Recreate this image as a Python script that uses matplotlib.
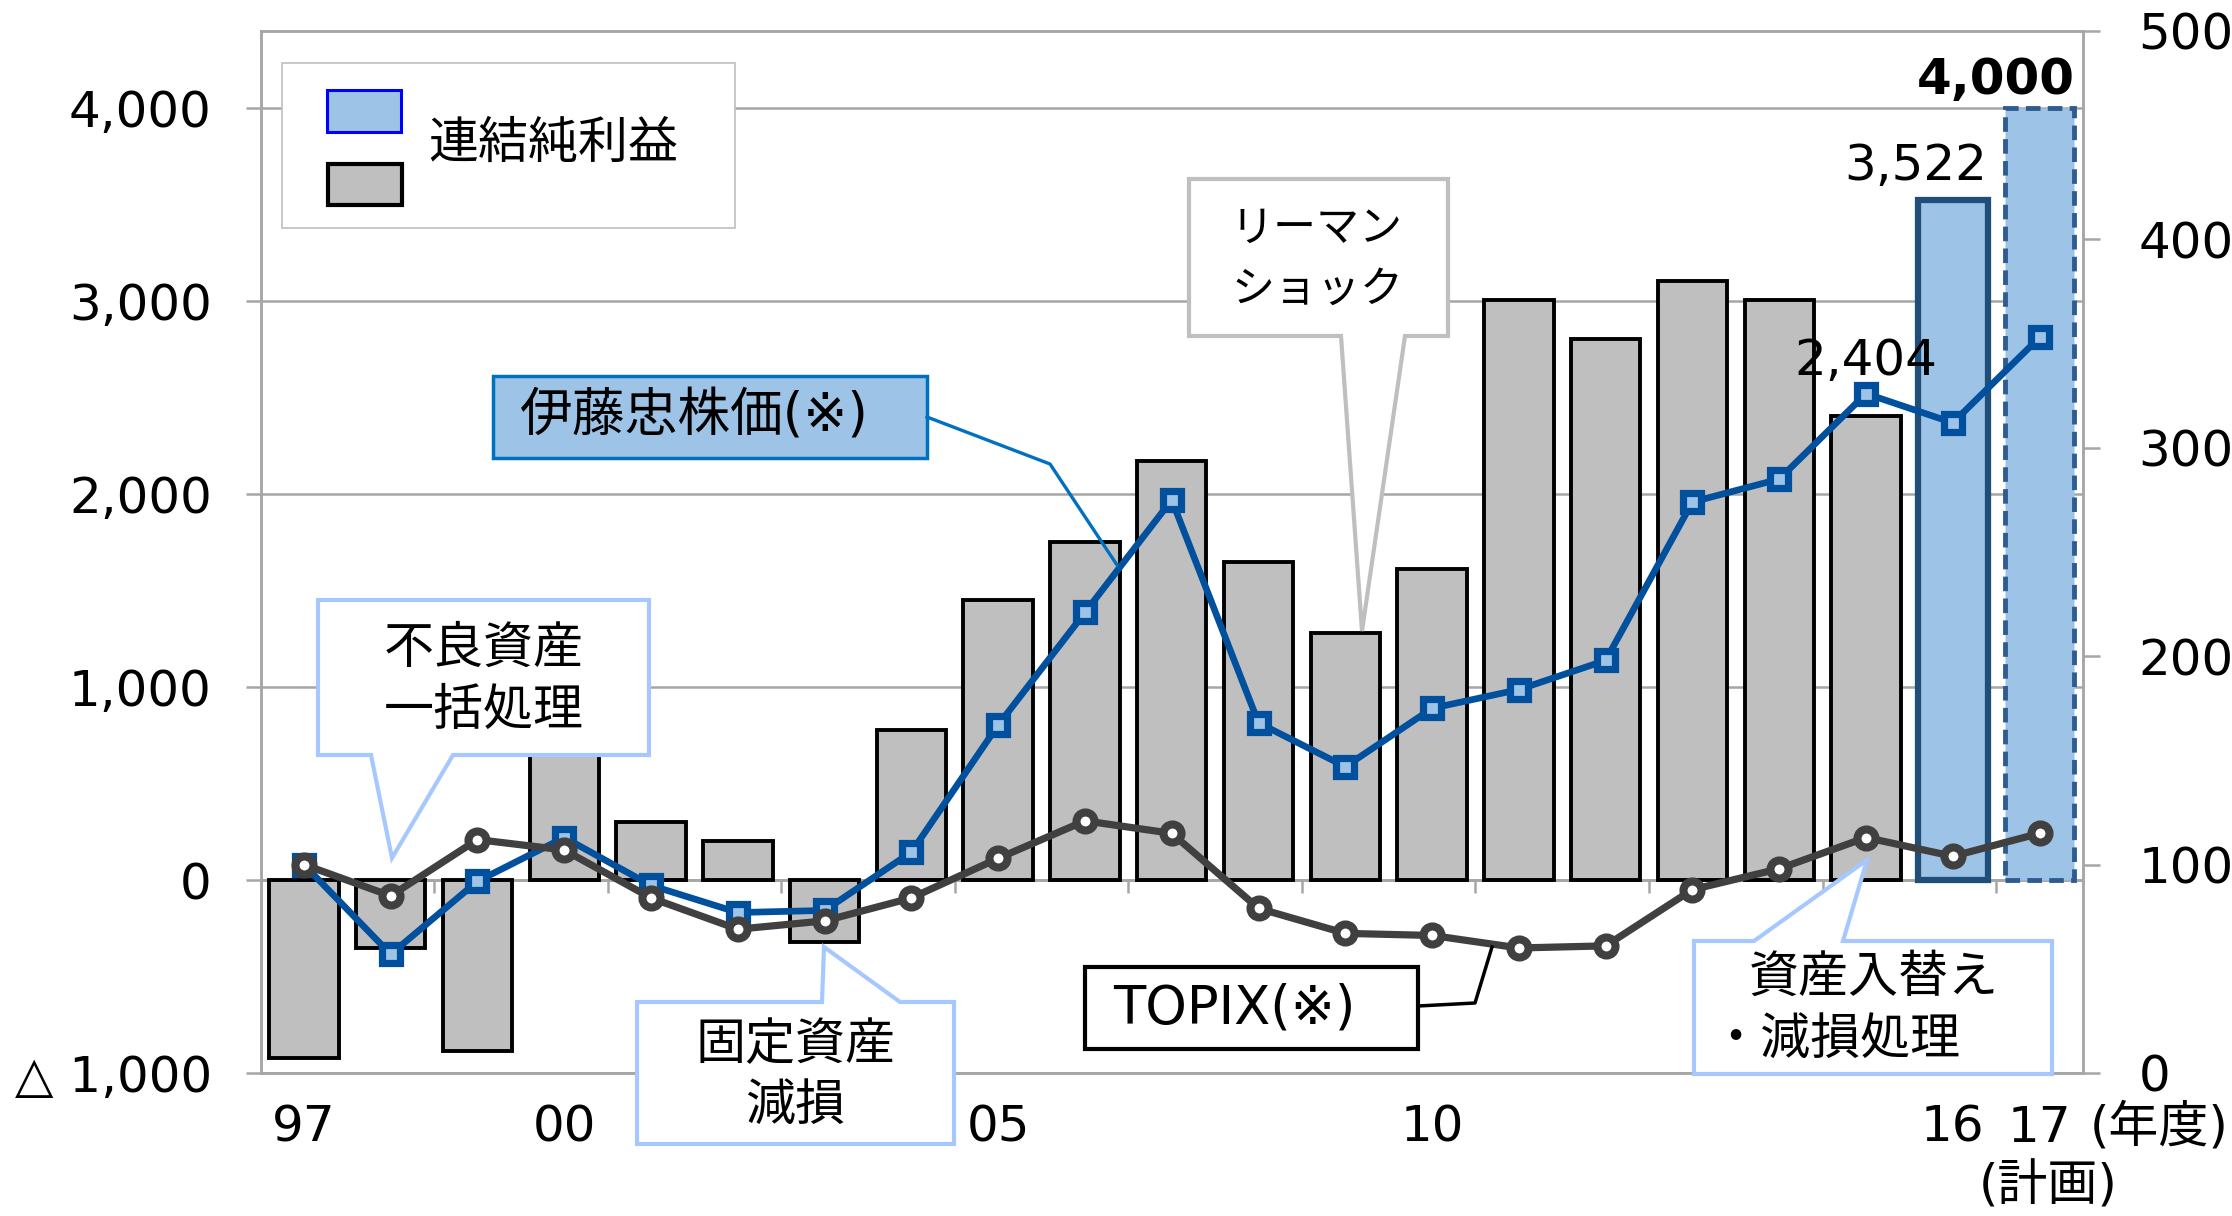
import matplotlib
matplotlib.use('Agg')
import matplotlib.pyplot as plt
from matplotlib.patches import Polygon
from matplotlib.lines import Line2D

plt.rcParams['font.family'] = ['DejaVu Sans', 'Noto Sans CJK JP']

years = ['97', '98', '99', '00', '01', '02', '03', '04', '05', '06', '07',
         '08', '09', '10', '11', '12', '13', '14', '15', '16', '17']
net_income = [-920, -350, -885, 705, 300, 200, -320, 778, 1449, 1753, 2173,
              1649, 1282, 1610, 3005, 2803, 3103, 3006, 2404, 3522, 4000]
itochu_price = [100, 57, 92, 113, 90, 77, 78, 106, 167, 221, 275,
                168, 147, 175, 184, 198, 274, 285, 326, 312, 353]
topix = [100, 85, 112, 107, 84, 69, 73, 84, 103, 121, 115,
         79, 67, 66, 60, 61, 88, 98, 113, 104, 115]
shown_years = ['97', '00', '05', '10', '16', '17']
left_ticks = [-1000, 0, 1000, 2000, 3000, 4000]
left_labels = ['△ 1,000', '0', '1,000', '2,000', '3,000', '4,000']
right_ticks = [0, 100, 200, 300, 400, 500]

W, H = 2232, 1216
GRAY = '#A6A6A6'
LIGHT = '#9DC3E6'
DARK = '#1F4E79'
BLUE = '#00509E'
BUBBLE = '#A6C8FF'
FS = 36

fig = plt.figure(figsize=(W / 100, H / 100), dpi=100)
ax = fig.add_axes([260.5 / W, 1 - 1073 / H, (2083 - 260.5) / W, (1073 - 31) / H])
x = list(range(len(years)))

# bars
cols = ['#BFBFBF'] * (len(years) - 2) + [LIGHT, LIGHT]
edges = ['black'] * (len(years) - 2) + [DARK, '#2F5C8F']
bars = ax.bar(x, net_income, width=0.8, color=cols, edgecolor=edges, linewidth=2.8, zorder=2)
bars[-2].set_linewidth(4.5)
bars[-1].set_linewidth(3.5)
bars[-1].set_linestyle((0, (3, 1.5)))

ax.set_xlim(-0.5, len(years) - 0.5)
ax.set_ylim(-1000, 4400)
ax.set_yticks(left_ticks)
ax.set_yticklabels(left_labels, fontsize=FS)
ax.grid(axis='y', color=GRAY, linewidth=1.8)
ax.set_axisbelow(True)
ax.axhline(0, color=GRAY, linewidth=2, zorder=1.5)
ax.vlines([i + 1.5 for i in range(0, len(years) - 1, 2)], -65, 0, color=GRAY, linewidth=1.8, zorder=1.5)
ax.tick_params(axis='y', length=11, width=1.8, color=GRAY, pad=24)
ax.set_xticks([years.index(y) for y in shown_years])
ax.set_xticklabels(shown_years, fontsize=FS)
ax.tick_params(axis='x', length=0, pad=22)
for s in ax.spines.values():
    s.set_color(GRAY)
    s.set_linewidth(1.8)

# value labels
ax.annotate(f'{net_income[18]:,}', (18, net_income[18]), xytext=(0, 40), textcoords='offset points',
            ha='center', va='center', fontsize=FS)
ax.annotate(f'{net_income[19]:,}', (19.4, net_income[19]), xytext=(0, 25), textcoords='offset points',
            ha='right', va='center', fontsize=FS)
ax.annotate(f'{net_income[20]:,}', (20.4, net_income[20]), xytext=(0, 20), textcoords='offset points',
            ha='right', va='center', fontsize=FS, fontweight='bold')

# lines on right axis
ax2 = ax.twinx()
ax2.set_ylim(0, 500)
ax2.set_yticks(right_ticks)
ax2.set_yticklabels([str(t) for t in right_ticks], fontsize=FS)
ax2.tick_params(axis='y', length=12, width=1.8, color=GRAY, pad=28)
for s in ax2.spines.values():
    s.set_color(GRAY)
    s.set_linewidth(1.8)
ax2.plot(x, itochu_price, color=BLUE, linewidth=4.8, marker='s', markersize=12.5,
         markerfacecolor=LIGHT, markeredgecolor=BLUE, markeredgewidth=5.2, zorder=3,
         solid_joinstyle='round')
ax2.plot(x, topix, color='#404040', linewidth=5.2, marker='o', markersize=13,
         markerfacecolor='white', markeredgecolor='#404040', markeredgewidth=5.8, zorder=4,
         solid_joinstyle='round')


def fx(px, py):
    return (px / W, 1 - py / H)


def shape(pts, ec, lw, fc='white'):
    fig.add_artist(Polygon([fx(*p) for p in pts], closed=True, transform=fig.transFigure,
                           facecolor=fc, edgecolor=ec, linewidth=lw, joinstyle='miter', zorder=5))


def leader(pts, color, lw):
    fig.add_artist(Line2D([fx(*p)[0] for p in pts], [fx(*p)[1] for p in pts],
                          transform=fig.transFigure, color=color, linewidth=lw, zorder=5))


def label(px, py, s, ha='center', size=FS):
    fig.text(*fx(px, py), s, ha=ha, va='center', fontsize=size, zorder=6)


# legend box
shape([(282, 63), (735, 63), (735, 228), (282, 228)], '#BFBFBF', 1.2)
shape([(327, 90), (401, 90), (401, 132), (327, 132)], '#0000FF', 2.2, fc=LIGHT)
shape([(328, 164), (402, 164), (402, 205), (328, 205)], 'black', 3, fc='#BFBFBF')
label(428, 144, '連結純利益', ha='left')

# callouts
shape([(318, 600), (649, 600), (649, 755), (453, 755), (392, 858), (371, 755), (318, 755)], BUBBLE, 3)
label(484, 649, '不良資産')
label(484, 711, '一括処理')

shape([(637, 1002), (822, 1002), (824, 947), (900, 1002), (954, 1002), (954, 1144), (637, 1144)], BUBBLE, 3)
label(795, 1045, '固定資産')
label(795, 1106, '減損')

shape([(1189, 179), (1448, 179), (1448, 336), (1405, 336), (1362, 631), (1341, 336), (1189, 336)], '#BFBFBF', 3)
label(1317, 229, 'リーマン', size=31)
label(1317, 290, 'ショック', size=31)

shape([(1694, 941), (1754, 941), (1867, 860), (1843, 941), (2052, 941), (2052, 1074), (1694, 1074)], BUBBLE, 3)
label(1874, 978, '資産入替え')
label(1835, 1040, '・減損処理')

shape([(493, 376), (927, 376), (927, 458), (493, 458)], '#0070C0', 2.5, fc=LIGHT)
leader([(927, 417), (1050, 464), (1117, 565)], '#0070C0', 2.4)
label(694, 417, '伊藤忠株価(※)', size=38)

shape([(1085, 967), (1418, 967), (1418, 1049), (1085, 1049)], 'black', 3)
leader([(1418, 1006), (1475, 1003), (1492, 947)], 'black', 2.5)
label(1234, 1008, 'TOPIX(※)', size=38)

label(2159, 1127, '(年度)')
label(2048, 1186, '(計画)')

fig.savefig('out.png', dpi=100)
